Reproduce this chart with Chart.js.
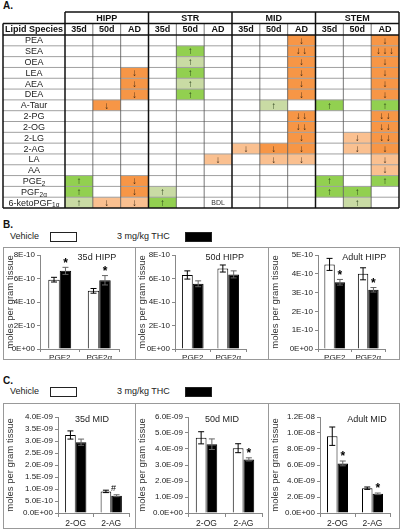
<!DOCTYPE html>
<html>
<head>
<meta charset="utf-8">
<script src="https://cdn.jsdelivr.net/npm/chart.js@4.4.0/dist/chart.umd.min.js"></script>
<style>
  body { margin:0; background:#fff; font-family:'Liberation Sans', Arial, sans-serif; color:#222; }
  #page { position:relative; width:400px; height:530px; overflow:hidden; }
  .abs { position:absolute; }
  .lbl { position:absolute; font-weight:bold; font-size:10px; color:#111; }
  .leg { position:absolute; font-size:9px; color:#222; }
  .box { position:absolute; width:27px; height:10px; box-sizing:border-box; border:1px solid #222; }
  .panel { position:absolute; box-sizing:border-box; border:1px solid #999; }
  .panel canvas { position:absolute; left:0; top:0; }
</style>
</head>
<body>
<div id="page">
  <div class="lbl" style="left:3px;top:0px;">A.</div>
  <canvas id="tbl" class="abs" style="left:0;top:0;" width="400" height="212"></canvas>

  <div class="lbl" style="left:3px;top:219px;">B.</div>
  <div class="leg" style="left:10px;top:231px;">Vehicle</div>
  <div class="box" style="left:50px;top:232px;background:#fff;"></div>
  <div class="leg" style="left:117px;top:231px;">3 mg/kg THC</div>
  <div class="box" style="left:185px;top:232px;background:#000;"></div>
  <div class="panel" style="left:3px;top:247px;width:133px;height:113px;"><canvas id="b1" width="131" height="111"></canvas></div>
  <div class="panel" style="left:135px;top:247px;width:134px;height:113px;"><canvas id="b2" width="132" height="111"></canvas></div>
  <div class="panel" style="left:268px;top:247px;width:132px;height:113px;"><canvas id="b3" width="130" height="111"></canvas></div>

  <div class="lbl" style="left:3px;top:375px;">C.</div>
  <div class="leg" style="left:10px;top:386px;">Vehicle</div>
  <div class="box" style="left:50px;top:387px;background:#fff;"></div>
  <div class="leg" style="left:117px;top:386px;">3 mg/kg THC</div>
  <div class="box" style="left:185px;top:387px;background:#000;"></div>
  <div class="panel" style="left:3px;top:403px;width:133px;height:126px;"><canvas id="c1" width="131" height="124"></canvas></div>
  <div class="panel" style="left:135px;top:403px;width:134px;height:126px;"><canvas id="c2" width="132" height="124"></canvas></div>
  <div class="panel" style="left:268px;top:403px;width:132px;height:126px;"><canvas id="c3" width="130" height="124"></canvas></div>
</div>
<script>
// ---- table (panel A) ----
const tableRegions = ["HIPP", "STR", "MID", "STEM"];
const tableAges = ["35d", "50d", "AD"];
const lipids = ["PEA", "SEA", "OEA", "LEA", "AEA", "DEA", "A-Taur", "2-PG", "2-OG", "2-LG", "2-AG",
                "LA", "AA", "PGE_2", "PGF_2α", "6-ketoPGF_1α"];
// O = strong decrease, o = weak decrease, G = strong increase, g = weak increase
const tableShade = [
  "........O..O",
  "....G...O..O",
  "....g...O..O",
  "..O.G...O..O",
  "..O.g...O..O",
  "..O.G...O..O",
  ".O.....g.G.G",
  "........O..O",
  "........O..O",
  "........O.oO",
  "......oOO.oO",
  ".....o.oo..o",
  "...........o",
  "G.O......G.G",
  "G.Og.....GG.",
  "gooG......g."
];
const tableMarks = [
  ["","","","","","","","","↓","","","↓"],
  ["","","","","↑","","","","↓↓","","","↓↓↓"],
  ["","","","","↑","","","","↓","","","↓"],
  ["","","↓","","↑","","","","↓","","","↓"],
  ["","","↓","","↑","","","","↓","","","↓"],
  ["","","↓","","↑","","","","↓","","","↓"],
  ["","↓","","","","","","↑","","↑","","↑"],
  ["","","","","","","","","↓↓","","","↓↓"],
  ["","","","","","","","","↓↓","","","↓↓"],
  ["","","","","","","","","↓","","↓","↓↓"],
  ["","","","","","","↓","↓","↓","","↓","↓"],
  ["","","","","","↓","","↓","↓","","","↓"],
  ["","","","","","","","","","","","↓"],
  ["↑","","↓","","","","","","","↑","","↑"],
  ["↑","","↓","↑","","","","","","↑","↑",""],
  ["↑","↓","↓","↑","","BDL","","","","","↑",""]
];

// ---- bar panels (B, C) ----
const seriesNames = ["Vehicle", "3 mg/kg THC"];
const hippGroups = ["PGE2", "PGF2α"];
const midGroups = ["2-OG", "2-AG"];

const hipp35Vehicle = [5.9e-10, 4.95e-10];
const hipp35VehicleErr = [0.2e-10, 0.2e-10];
const hipp35Thc = [6.65e-10, 5.85e-10];
const hipp35ThcErr = [0.3e-10, 0.4e-10];
const hipp35Marks = ["*", "*"];

const hipp50Vehicle = [6.3e-10, 6.85e-10];
const hipp50VehicleErr = [0.35e-10, 0.3e-10];
const hipp50Thc = [5.55e-10, 6.35e-10];
const hipp50ThcErr = [0.25e-10, 0.3e-10];
const hipp50Marks = ["", ""];

const hippAdVehicle = [4.5e-10, 4.0e-10];
const hippAdVehicleErr = [0.32e-10, 0.32e-10];
const hippAdThc = [3.55e-10, 3.15e-10];
const hippAdThcErr = [0.15e-10, 0.12e-10];
const hippAdMarks = ["*", "*"];

const mid35Vehicle = [3.25e-9, 0.9e-9];
const mid35VehicleErr = [0.17e-9, 0.05e-9];
const mid35Thc = [2.95e-9, 0.72e-9];
const mid35ThcErr = [0.13e-9, 0.04e-9];
const mid35Marks = ["", "#"];

const mid50Vehicle = [4.7e-9, 4.05e-9];
const mid50VehicleErr = [0.38e-9, 0.28e-9];
const mid50Thc = [4.3e-9, 3.35e-9];
const mid50ThcErr = [0.33e-9, 0.1e-9];
const mid50Marks = ["", "*"];

const midAdVehicle = [9.6e-9, 3.1e-9];
const midAdVehicleErr = [1.15e-9, 0.15e-9];
const midAdThc = [6.2e-9, 2.4e-9];
const midAdThcErr = [0.3e-9, 0.1e-9];
const midAdMarks = ["*", "*"];

const hippTicks8 = ["0E+00", "2E-10", "4E-10", "6E-10", "8E-10"];
const hippTicks5 = ["0E+00", "1E-10", "2E-10", "3E-10", "4E-10", "5E-10"];
const midTicks4 = ["0.0E+00", "5.0E-10", "1.0E-09", "1.5E-09", "2.0E-09", "2.5E-09", "3.0E-09", "3.5E-09", "4.0E-09"];
const midTicks6 = ["0.0E+00", "1.0E-09", "2.0E-09", "3.0E-09", "4.0E-09", "5.0E-09", "6.0E-09"];
const midTicks12 = ["0.0E+00", "2.0E-09", "4.0E-09", "6.0E-09", "8.0E-09", "1.0E-08", "1.2E-08"];

Chart.defaults.font.family = "'Liberation Sans', Arial, sans-serif";
Chart.defaults.color = '#222';

const FONT = "'Liberation Sans', Arial, sans-serif";
const shadeColours = { O: '#F79646', o: '#FAC090', G: '#92D050', g: '#C9DBA4' };

// lipid names with "_" marking a subscript part
function drawName(ctx, name, cx, cy) {
  const parts = name.split('_');
  ctx.font = '9px ' + FONT;
  const w0 = ctx.measureText(parts[0]).width;
  let w1 = 0;
  if (parts[1]) { ctx.font = '6.5px ' + FONT; w1 = ctx.measureText(parts[1]).width; }
  const x0 = cx - (w0 + w1) / 2;
  ctx.textAlign = 'left'; ctx.textBaseline = 'middle';
  ctx.font = '9px ' + FONT;
  ctx.fillText(parts[0], x0, cy);
  if (parts[1]) { ctx.font = '6.5px ' + FONT; ctx.fillText(parts[1], x0 + w0, cy + 2.5); }
}

function hline(ctx, x0, x1, y, w, c) { ctx.beginPath(); ctx.lineWidth = w; ctx.strokeStyle = c; ctx.moveTo(x0, y); ctx.lineTo(x1, y); ctx.stroke(); }
function vline(ctx, x, y0, y1, w, c) { ctx.beginPath(); ctx.lineWidth = w; ctx.strokeStyle = c; ctx.moveTo(x, y0); ctx.lineTo(x, y1); ctx.stroke(); }

const tablePlugin = {
  id: 'tableCells',
  beforeDatasetsDraw(chart) {
    const {ctx, scales: {x, y}} = chart;
    chart.data.datasets[0].data.forEach(p => {
      const col = shadeColours[p.shade];
      if (!col) return;
      const x0 = x.getPixelForValue(p.col), x1 = x.getPixelForValue(p.col + 1);
      const y0 = y.getPixelForValue(p.row), y1 = y.getPixelForValue(p.row + 1);
      ctx.fillStyle = col;
      ctx.fillRect(x0, y0, x1 - x0, y1 - y0);
    });
  },
  afterDatasetsDraw(chart) {
    const {ctx, scales: {x, y}} = chart;
    const L = 3, T0 = 12, T1 = 23.5;
    const R = x.getPixelForValue(12), top = y.getPixelForValue(0), bot = y.getPixelForValue(16);
    ctx.save();
    for (let r = 1; r < 16; r++) hline(ctx, L, R, y.getPixelForValue(r), 1, '#a0a0a0');
    for (let c = 1; c < 12; c++) if (c % 3) vline(ctx, x.getPixelForValue(c), T1, bot, 0.8, '#555');
    hline(ctx, x.getPixelForValue(0), R, T0, 1.5, '#111');
    hline(ctx, L, R, T1, 1.5, '#111');
    hline(ctx, L, R, top, 1.5, '#111');
    hline(ctx, L, R, bot, 1.5, '#111');
    vline(ctx, L, T1, bot, 1.5, '#111');
    for (let c = 0; c <= 12; c += 3) vline(ctx, x.getPixelForValue(c), T0, bot, 1.5, '#111');

    ctx.fillStyle = '#111';
    ctx.textAlign = 'center'; ctx.textBaseline = 'middle';
    ctx.font = 'bold 9px ' + FONT;
    tableRegions.forEach((g, i) => ctx.fillText(g, x.getPixelForValue(i * 3 + 1.5), (T0 + T1) / 2 + 0.5));
    ctx.fillText('Lipid Species', (L + x.getPixelForValue(0)) / 2, (T1 + top) / 2 + 0.5);
    for (let c = 0; c < 12; c++) ctx.fillText(tableAges[c % 3], x.getPixelForValue(c + 0.5), (T1 + top) / 2 + 0.5);

    ctx.fillStyle = '#222';
    lipids.forEach((n, r) => drawName(ctx, n, (L + x.getPixelForValue(0)) / 2, y.getPixelForValue(r + 0.5) + 0.5));

    chart.data.datasets[0].data.forEach(p => {
      if (!p.mark) return;
      const cx = x.getPixelForValue(p.col + 0.5), cy = y.getPixelForValue(p.row + 0.5) + 0.5;
      ctx.textAlign = 'center'; ctx.textBaseline = 'middle';
      if (p.mark === 'BDL') { ctx.font = '7px ' + FONT; ctx.fillStyle = '#333'; ctx.fillText(p.mark, cx, cy); return; }
      ctx.font = '10px ' + FONT;
      ctx.fillStyle = p.mark.includes('↓') ? '#3d2712' : '#1e3510';
      const arr = [...p.mark];
      const step = 6.5;
      arr.forEach((a, k) => ctx.fillText(a, cx + (k - (arr.length - 1) / 2) * step, cy));
    });
    ctx.restore();
  }
};

const cells = [];
tableShade.forEach((row, r) => {
  for (let c = 0; c < 12; c++) cells.push({x: c + 0.5, y: r + 0.5, col: c, row: r, shade: row[c], mark: tableMarks[r][c]});
});

new Chart(document.getElementById('tbl'), {
  type: 'scatter',
  data: { datasets: [{ data: cells, pointRadius: 0 }] },
  options: {
    responsive: false, animation: false, devicePixelRatio: 1,
    layout: { padding: { left: 65, right: 1, top: 35, bottom: 4 } },
    plugins: { legend: { display: false }, tooltip: { enabled: false } },
    scales: {
      x: { type: 'linear', min: 0, max: 12, display: false },
      y: { type: 'linear', min: 0, max: 16, reverse: true, display: false }
    }
  },
  plugins: [tablePlugin]
});

// error bars + significance marks
const errorPlugin = {
  id: 'errorBars',
  afterDatasetsDraw(chart) {
    const {ctx, scales: {y}} = chart;
    ctx.save();
    chart.data.datasets.forEach((ds, d) => {
      chart.getDatasetMeta(d).data.forEach((el, i) => {
        const v = ds.data[i], e = ds.errors[i];
        const yt = y.getPixelForValue(v + e), yb = y.getPixelForValue(v - e);
        ctx.strokeStyle = d === 0 ? '#000' : '#666'; ctx.lineWidth = 1;
        ctx.beginPath();
        ctx.moveTo(el.x, yt); ctx.lineTo(el.x, yb);
        ctx.moveTo(el.x - 3, yt); ctx.lineTo(el.x + 3, yt);
        ctx.moveTo(el.x - 3, yb); ctx.lineTo(el.x + 3, yb);
        ctx.stroke();
        const m = ds.marks[i];
        if (m) {
          ctx.fillStyle = '#000';
          ctx.textAlign = 'center'; ctx.textBaseline = 'middle';
          if (m === '*') { ctx.font = 'bold 12px ' + FONT; ctx.fillText(m, el.x, yt - 4); }
          else { ctx.font = '9px ' + FONT; ctx.fillText(m, el.x - 3, yt - 6); }
        }
      });
    });
    ctx.restore();
  }
};

function titlePlugin(text, frac) {
  return {
    id: 'panelTitle',
    afterDraw(chart) {
      const {ctx, chartArea: a} = chart;
      ctx.save();
      ctx.font = '9px ' + FONT; ctx.fillStyle = '#222';
      ctx.textAlign = 'center'; ctx.textBaseline = 'middle';
      ctx.fillText(text, a.left + frac * (a.right - a.left), a.top + 3);
      ctx.restore();
    }
  };
}

function makePanel(id, cfg) {
  const maxV = Number(cfg.ticks[cfg.ticks.length - 1]);
  new Chart(document.getElementById(id), {
    type: 'bar',
    data: {
      labels: cfg.groups,
      datasets: [
        { label: seriesNames[0], data: cfg.vehicle, errors: cfg.vehicleErr, marks: ["", ""],
          backgroundColor: '#fff', borderColor: '#000', borderWidth: 1 },
        { label: seriesNames[1], data: cfg.thc, errors: cfg.thcErr, marks: cfg.marks,
          backgroundColor: '#000', borderColor: '#000', borderWidth: 1 }
      ]
    },
    options: {
      responsive: false, animation: false, devicePixelRatio: 1,
      layout: { padding: { top: cfg.top, right: cfg.right, left: 0, bottom: 0 } },
      datasets: { bar: { barPercentage: 1, categoryPercentage: cfg.cat } },
      plugins: { legend: { display: false }, tooltip: { enabled: false } },
      scales: {
        x: {
          grid: { drawOnChartArea: false, tickLength: cfg.xtick, color: '#888' },
          border: { color: '#888' },
          ticks: { font: { size: cfg.xfont }, color: '#222', padding: cfg.xpad },
          afterFit: s => { s.height = cfg.xh; }
        },
        y: {
          min: 0, max: maxV,
          afterBuildTicks: s => { s.ticks = cfg.ticks.map(t => ({ value: Number(t) })); },
          ticks: { callback: (v, i) => cfg.ticks[i], font: { size: 8 }, color: '#222', padding: 2, autoSkip: false },
          grid: { drawOnChartArea: false, tickLength: 3, color: '#888' },
          border: { color: '#888' },
          title: { display: true, text: 'moles per gram tissue', font: { size: 9.5 }, color: '#333', padding: { top: 1, bottom: 0 } },
          afterFit: s => { s.width = cfg.yw; }
        }
      }
    },
    plugins: [errorPlugin, titlePlugin(cfg.title, cfg.tx)]
  });
}

makePanel('b1', { groups: hippGroups, vehicle: hipp35Vehicle, vehicleErr: hipp35VehicleErr, thc: hipp35Thc, thcErr: hipp35ThcErr,
  marks: hipp35Marks, ticks: hippTicks8, title: '35d HIPP', tx: 0.72, yw: 36, xh: 10, top: 7, right: 16, cat: 0.58, xtick: 3, xpad: 1, xfont: 8 });
makePanel('b2', { groups: hippGroups, vehicle: hipp50Vehicle, vehicleErr: hipp50VehicleErr, thc: hipp50Thc, thcErr: hipp50ThcErr,
  marks: hipp50Marks, ticks: hippTicks8, title: '50d HIPP', tx: 0.7, yw: 39, xh: 10, top: 7, right: 22, cat: 0.61, xtick: 3, xpad: 1, xfont: 8 });
makePanel('b3', { groups: hippGroups, vehicle: hippAdVehicle, vehicleErr: hippAdVehicleErr, thc: hippAdThc, thcErr: hippAdThcErr,
  marks: hippAdMarks, ticks: hippTicks5, title: 'Adult HIPP', tx: 0.69, yw: 49, xh: 10, top: 7, right: 14, cat: 0.62, xtick: 3, xpad: 1, xfont: 8 });

makePanel('c1', { groups: midGroups, vehicle: mid35Vehicle, vehicleErr: mid35VehicleErr, thc: mid35Thc, thcErr: mid35ThcErr,
  marks: mid35Marks, ticks: midTicks4, title: '35d MID', tx: 0.48, yw: 54, xh: 15, top: 13, right: 6, cat: 0.6, xtick: 4, xpad: 2, xfont: 8.5 });
makePanel('c2', { groups: midGroups, vehicle: mid50Vehicle, vehicleErr: mid50VehicleErr, thc: mid50Thc, thcErr: mid50ThcErr,
  marks: mid50Marks, ticks: midTicks6, title: '50d MID', tx: 0.46, yw: 52, xh: 15, top: 13, right: 6, cat: 0.58, xtick: 4, xpad: 2, xfont: 8.5 });
makePanel('c3', { groups: midGroups, vehicle: midAdVehicle, vehicleErr: midAdVehicleErr, thc: midAdThc, thcErr: midAdThcErr,
  marks: midAdMarks, ticks: midTicks12, title: 'Adult MID', tx: 0.67, yw: 51, xh: 15, top: 13, right: 9, cat: 0.6, xtick: 4, xpad: 2, xfont: 8.5 });
</script>
</body>
</html>
